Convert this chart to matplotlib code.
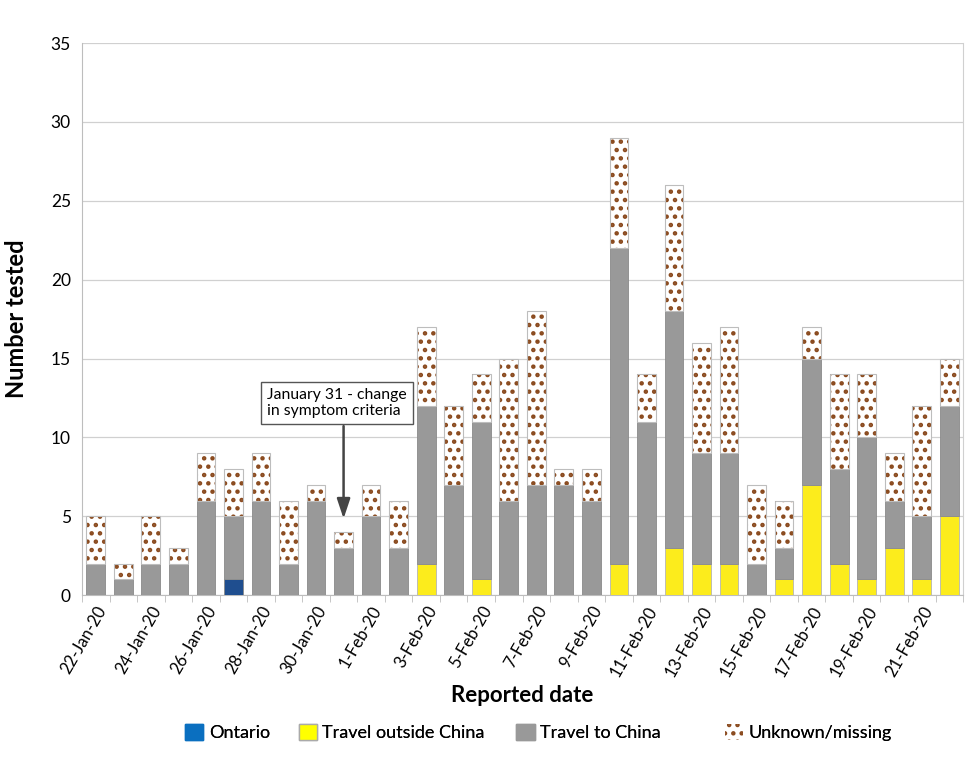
import matplotlib
matplotlib.use("Agg")
import matplotlib.pyplot as plt
import numpy as np
from matplotlib.patches import Patch

plt.rcParams['font.family'] = ['Lato', 'DejaVu Sans']
plt.rcParams['hatch.linewidth'] = 2.0

dates = ['22-Jan-20', '23-Jan-20', '24-Jan-20', '25-Jan-20', '26-Jan-20', '27-Jan-20',
         '28-Jan-20', '29-Jan-20', '30-Jan-20', '31-Jan-20', '1-Feb-20', '2-Feb-20',
         '3-Feb-20', '4-Feb-20', '5-Feb-20', '6-Feb-20', '7-Feb-20', '8-Feb-20',
         '9-Feb-20', '10-Feb-20', '11-Feb-20', '12-Feb-20', '13-Feb-20', '14-Feb-20',
         '15-Feb-20', '16-Feb-20', '17-Feb-20', '18-Feb-20', '19-Feb-20', '20-Feb-20',
         '21-Feb-20', '22-Feb-20']
ontario = [0, 0, 0, 0, 0, 1, 0, 0, 0, 0, 0, 0, 0, 0, 0, 0,
           0, 0, 0, 0, 0, 0, 0, 0, 0, 0, 0, 0, 0, 0, 0, 0]
travel_outside = [0, 0, 0, 0, 0, 0, 0, 0, 0, 0, 0, 0, 2, 0, 1, 0,
                  0, 0, 0, 2, 0, 3, 2, 2, 0, 1, 7, 2, 1, 3, 1, 5]
travel_china = [2, 1, 2, 2, 6, 4, 6, 2, 6, 3, 5, 3, 10, 7, 10, 6,
                7, 7, 6, 20, 11, 15, 7, 7, 2, 2, 8, 6, 9, 3, 4, 7]
unknown = [3, 1, 3, 1, 3, 3, 3, 4, 1, 1, 2, 3, 5, 5, 3, 9,
           11, 1, 2, 7, 3, 8, 7, 8, 5, 3, 2, 6, 4, 3, 7, 3]

fig = plt.figure(figsize=(9.8, 7.75), dpi=100)
ax = fig.add_axes([0.0837, 0.232, 0.899, 0.7125])

x = np.arange(len(dates))
w = 0.68
ont = np.array(ontario)
yel = np.array(travel_outside)
gry = np.array(travel_china)
unk = np.array(unknown)

ax.bar(x, ont, w, color='#1f4e8f', edgecolor='#8a8a8a', linewidth=0.6, zorder=3)
ax.bar(x, yel, w, bottom=ont, color='#fcec1c', edgecolor='#b5b5b5', linewidth=0.6, zorder=3)
ax.bar(x, gry, w, bottom=ont + yel, color='#999999', edgecolor='#8a8a8a', linewidth=0.6, zorder=3)
# dotted unknown segment: hatch in brown, then a grey outline on top
ax.bar(x, unk, w, bottom=ont + yel + gry, color='white', edgecolor='#8a4a1e',
       linewidth=0, hatch='..', zorder=3)
ax.bar(x, unk, w, bottom=ont + yel + gry, color='none', edgecolor='#bdbdbd',
       linewidth=0.8, zorder=4)

ax.set_xlim(-0.5, len(dates) - 0.5)
ax.set_ylim(0, 35)
ax.set_yticks(range(0, 36, 5))
ax.yaxis.grid(True, color='#d0d0d0', linewidth=0.9, zorder=0)
ax.set_axisbelow(True)
ax.tick_params(axis='y', length=0, labelsize=12.5, pad=8)

ax.set_xticks(x[::2])
ax.set_xticklabels(dates[::2], rotation=60, ha='right', rotation_mode='anchor', fontsize=12)
ax.set_xticks(np.arange(-0.5, len(dates), 1), minor=True)
ax.tick_params(axis='x', which='major', length=0, pad=6)
ax.tick_params(axis='x', which='minor', length=5, color='#bdbdbd')

ax.spines['top'].set_visible(False)
ax.spines['right'].set_color('#d0d0d0')
ax.spines['left'].set_color('#bdbdbd')
ax.spines['bottom'].set_color('#bdbdbd')

ax.set_ylabel('Number tested', fontsize=17, fontweight='bold', labelpad=16)
ax.set_xlabel('Reported date', fontsize=16, fontweight='bold', labelpad=4)

# note box and arrow for January 31
ax.text(6.22, 12.17, 'January 31 - change\nin symptom criteria', ha='left', va='center',
        fontsize=11.3, linespacing=1.15,
        bbox=dict(boxstyle='square,pad=0.4', fc='white', ec='#555555', lw=1))
ax.annotate('', xy=(9, 4.85), xytext=(9, 10.72),
            arrowprops=dict(arrowstyle='-|>,head_width=0.4,head_length=1.2',
                            color='#444444', lw=1.8, shrinkA=0, shrinkB=0))

# legend entries are spaced unevenly in the original, so place each one on its own
handles = [Patch(facecolor='#0a6fc0', edgecolor='#0a6fc0', label='Ontario'),
           Patch(facecolor='#ffff00', edgecolor='#aaaaaa', label='Travel outside China'),
           Patch(facecolor='#999999', edgecolor='#999999', label='Travel to China'),
           Patch(facecolor='white', edgecolor='#8a4a1e', hatch='..', lw=0, label='Unknown/missing')]
leg_x = [0.189, 0.305, 0.527, 0.74]
for h, lx in zip(handles, leg_x):
    leg = fig.legend(handles=[h], loc='center left', bbox_to_anchor=(lx, 0.055),
                     frameon=False, fontsize=13, handlelength=1.0, handleheight=1.0,
                     handletextpad=0.3, borderpad=0, borderaxespad=0)
    fig.add_artist(leg)

fig.savefig('out.png', dpi=100)
